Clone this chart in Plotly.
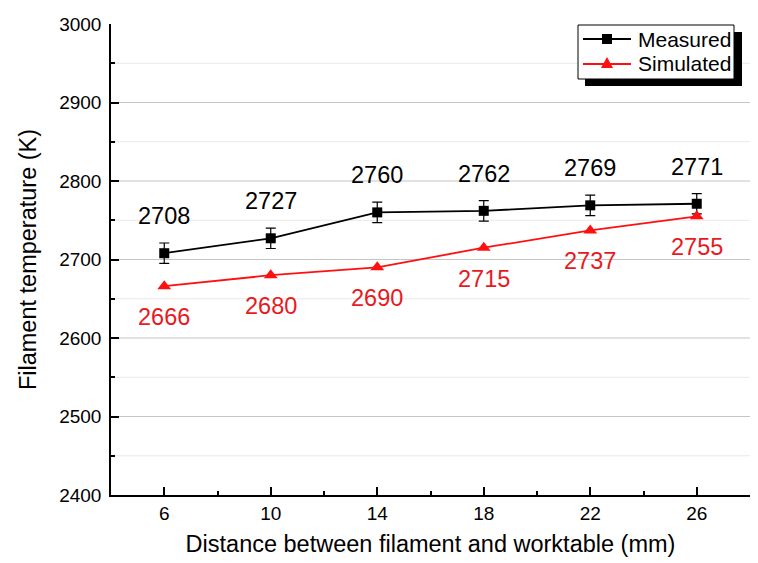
import plotly.graph_objects as go

# Filament temperature versus filament-to-worktable distance
distance_mm = [6, 10, 14, 18, 22, 26]
measured_K = [2708, 2727, 2760, 2762, 2769, 2771]
measured_err_K = [13, 13, 13, 13, 13, 13]
simulated_K = [2666, 2680, 2690, 2715, 2737, 2755]

y_tick_vals = [2400, 2500, 2600, 2700, 2800, 2900, 3000]
x_tick_vals = [6, 10, 14, 18, 22, 26]
series_names = ["Measured", "Simulated"]

FONT = "Liberation Sans, Arial, sans-serif"
RED = "#ff1010"
LABEL_RED = "#e8191e"

W, H = 758, 563
M_L, M_R, M_T, M_B = 111, 8, 24, 68
PLOT_W, PLOT_H = W - M_L - M_R, H - M_T - M_B


def px_x(px):
    """Page pixel column -> paper x."""
    return (px - M_L) / PLOT_W


def px_y(py):
    """Page pixel row -> paper y."""
    return (H - M_B - py) / PLOT_H


fig = go.Figure()

fig.add_trace(go.Scatter(
    x=distance_mm, y=measured_K, name=series_names[0],
    mode="lines+markers",
    line=dict(color="black", width=1.8),
    marker=dict(symbol="square", size=10, color="black"),
    error_y=dict(type="data", array=measured_err_K, visible=True,
                 color="black", thickness=1.2, width=5),
))
fig.add_trace(go.Scatter(
    x=distance_mm, y=simulated_K, name=series_names[1],
    mode="lines+markers",
    line=dict(color=RED, width=1.8),
    marker=dict(symbol="triangle-up", size=12, color=RED),
))

# Value labels above the measured points and below the simulated points
for x, y in zip(distance_mm, measured_K):
    fig.add_annotation(x=x, y=y, text=str(y), showarrow=False, yshift=37,
                       font=dict(family=FONT, size=23.5, color="black"))
for x, y in zip(distance_mm, simulated_K):
    fig.add_annotation(x=x, y=y, text=str(y), showarrow=False, yshift=-31,
                       font=dict(family=FONT, size=23.5, color=LABEL_RED))

# Horizontal grid: darker lines every 100 K, lighter lines every 50 K
for v in range(2450, 3000, 50):
    fig.add_shape(type="line", xref="paper", yref="y", x0=0, x1=1, y0=v, y1=v,
                  line=dict(color="#c4c4c4" if v % 100 == 0 else "#e8e8e8", width=1),
                  layer="below")

# Boxed legend with a solid drop shadow
fig.add_shape(type="rect", xref="paper", yref="paper",
              x0=px_x(585), x1=px_x(742), y0=px_y(86), y1=px_y(32),
              fillcolor="black", line=dict(width=0), layer="above")
fig.add_shape(type="rect", xref="paper", yref="paper",
              x0=px_x(578), x1=px_x(734), y0=px_y(79), y1=px_y(25),
              fillcolor="white", line=dict(color="black", width=1), layer="above")

legend_rows = [(39, "black", "square"), (64, RED, "triangle")]
for name, (row_y, color, glyph) in zip(series_names, legend_rows):
    yy = px_y(row_y)
    fig.add_shape(type="line", xref="paper", yref="paper",
                  x0=px_x(583), x1=px_x(631), y0=yy, y1=yy,
                  line=dict(color=color, width=1.8), layer="above")
    if glyph == "square":
        fig.add_shape(type="rect", xref="paper", yref="paper",
                      xsizemode="pixel", ysizemode="pixel",
                      xanchor=px_x(607), yanchor=yy,
                      x0=-5, x1=5, y0=-5, y1=5,
                      fillcolor=color, line=dict(width=0), layer="above")
    else:
        fig.add_shape(type="path", xref="paper", yref="paper",
                      xsizemode="pixel", ysizemode="pixel",
                      xanchor=px_x(607), yanchor=yy,
                      path="M -6,-4 L 6,-4 L 0,7 Z",
                      fillcolor=color, line=dict(width=0), layer="above")
    fig.add_annotation(xref="paper", yref="paper", x=px_x(636), y=yy,
                       xanchor="left", yanchor="middle", showarrow=False,
                       text=name, font=dict(family=FONT, size=21, color="black"))

fig.update_layout(
    width=W, height=H,
    margin=dict(l=M_L, r=M_R, t=M_T, b=M_B),
    paper_bgcolor="white", plot_bgcolor="white",
    font=dict(family=FONT, size=19, color="black"),
    showlegend=False,
)

fig.update_xaxes(
    range=[4, 28], tickvals=x_tick_vals,
    showgrid=False, zeroline=False,
    showline=True, linecolor="black", linewidth=1.5,
    ticks="inside", ticklen=8, tickwidth=1.5, tickcolor="black",
    minor=dict(tickvals=[8, 12, 16, 20, 24, 28], ticks="inside",
               ticklen=4, tickwidth=1.5, tickcolor="black"),
    tickfont=dict(family=FONT, size=19),
    title=dict(text="Distance between filament and worktable (mm)",
               font=dict(family=FONT, size=23.5), standoff=13),
)
fig.update_yaxes(
    range=[2400, 3000], tickvals=y_tick_vals,
    showgrid=False, zeroline=False,
    showline=True, linecolor="black", linewidth=1.5,
    ticks="inside", ticklen=8, tickwidth=1.5, tickcolor="black",
    minor=dict(tickvals=list(range(2450, 3000, 100)), ticks="inside",
               ticklen=4, tickwidth=1.5, tickcolor="black"),
    tickfont=dict(family=FONT, size=19),
    ticklabelstandoff=4,
    title=dict(text="Filament temperature (K)",
               font=dict(family=FONT, size=23.5), standoff=16),
)

fig.write_html("out.html")
